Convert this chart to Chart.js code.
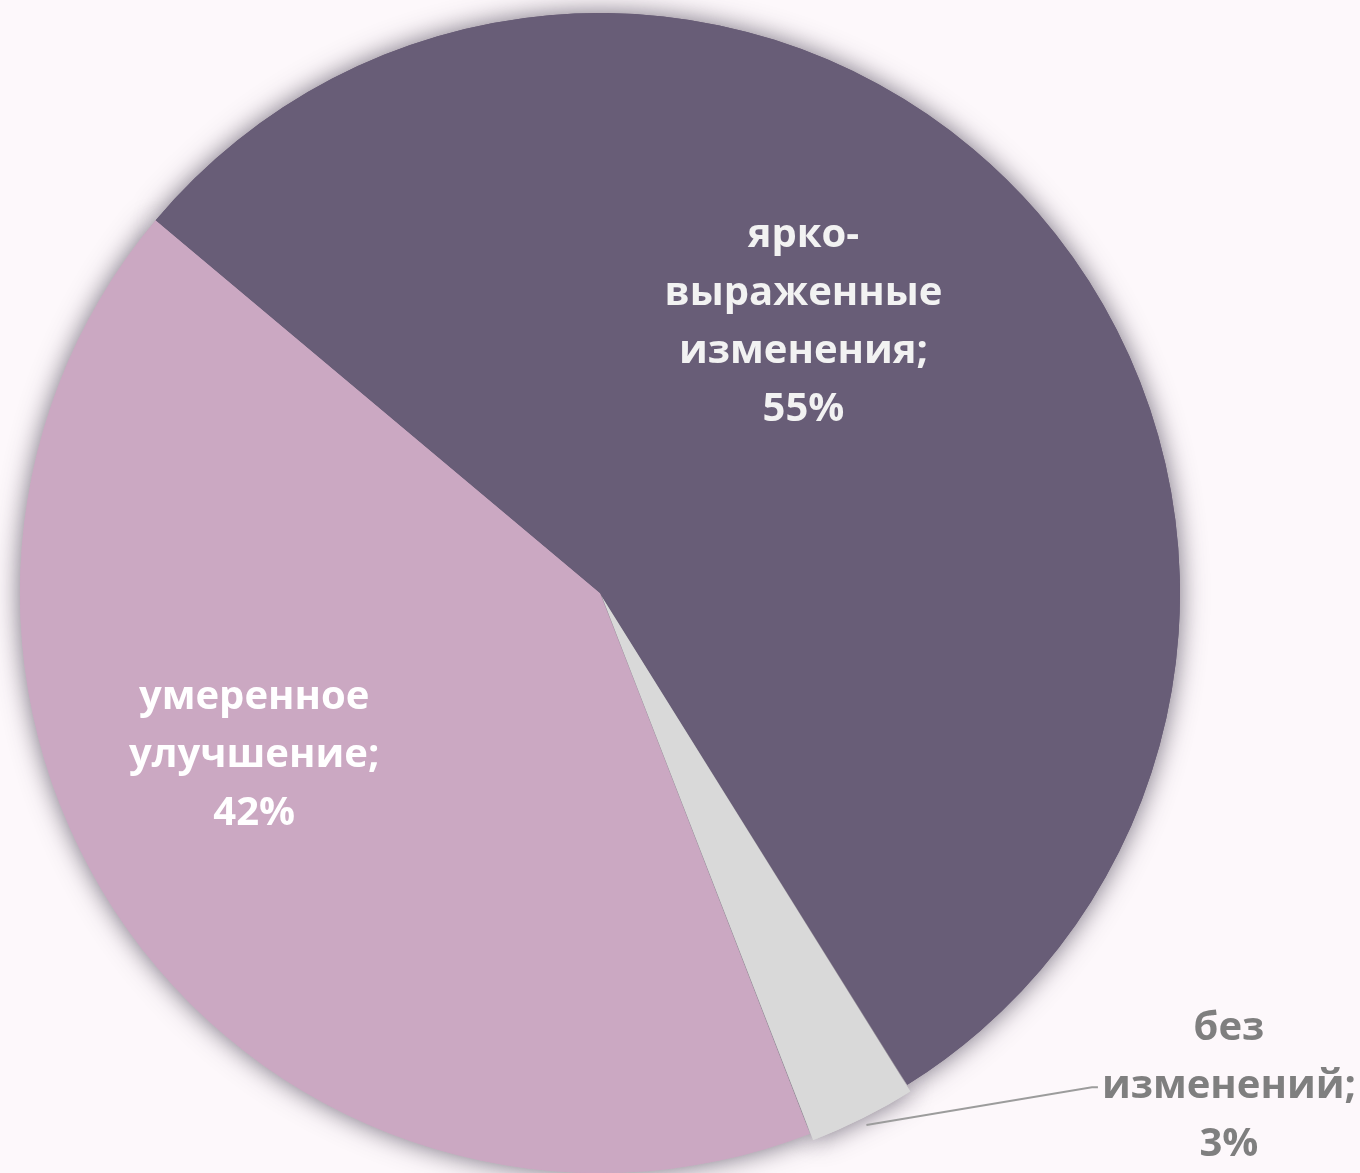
<!DOCTYPE html>
<html>
<head>
<meta charset="utf-8">
<script src="https://cdn.jsdelivr.net/npm/chart.js@4.4.1/dist/chart.umd.min.js"></script>
<style>
  html, body { margin: 0; padding: 0; background: #fdf8fb; }
  #wrap { width: 1360px; height: 1173px; position: relative; overflow: hidden; }
  canvas { display: block; }
</style>
</head>
<body>
<div id="wrap"><canvas id="pie" width="1360" height="1173"></canvas></div>
<script>
// Categories and shares (percent), in clockwise drawing order
const categories = ['без изменений', 'умеренное улучшение', 'ярко-выраженные изменения'];
const shares = [3, 42, 55];
// Label text broken into lines (the percent line is appended from shares)
const labelLines = [
  ['без', 'изменений;'],
  ['умеренное', 'улучшение;'],
  ['ярко-', 'выраженные', 'изменения;']
];
const sliceColors = ['#d9d9d9', '#cba8c2', '#685d77'];
const labelColors = ['#7f7f7f', '#ffffff', '#f2f2f2'];

// Label placement: angle shift from the slice's mid-angle (deg) and distance as a fraction of radius
const labelPlacement = [
  { dAngle: -25.3, frac: 1.378, outside: true },
  { dAngle: 10.4, frac: 0.659 },
  { dAngle: -12.0, frac: 0.583 }
];

const FONT_PX = 40;
const LINE_H = 58;

// Soft outer shadow drawn under the pie (inner edges are covered by the normal pass)
const shadowPlugin = {
  id: 'pieShadow',
  beforeDatasetsDraw(chart) {
    const ctx = chart.ctx;
    ctx.save();
    ctx.shadowColor = 'rgba(60, 50, 70, 0.7)';
    ctx.shadowBlur = 26;
    chart.getDatasetMeta(0).data.forEach(a => a.draw(ctx));
    ctx.restore();
  }
};

// Multi-line category;percent labels, with a leader line for the outside one
const labelPlugin = {
  id: 'sliceLabels',
  afterDatasetsDraw(chart) {
    const ctx = chart.ctx;
    const meta = chart.getDatasetMeta(0);
    ctx.save();
    ctx.font = 'bold ' + FONT_PX + 'px "Open Sans", "DejaVu Sans", sans-serif';
    ctx.textAlign = 'center';
    ctx.textBaseline = 'middle';
    meta.data.forEach((arc, i) => {
      const p = arc.getProps(['x', 'y', 'startAngle', 'endAngle', 'outerRadius'], true);
      const mid = (p.startAngle + p.endAngle) / 2;
      const pl = labelPlacement[i];
      const ang = mid + pl.dAngle * Math.PI / 180;
      const cx = p.x + Math.cos(ang) * p.outerRadius * pl.frac;
      const cy = p.y + Math.sin(ang) * p.outerRadius * pl.frac;
      const lines = labelLines[i].concat([shares[i] + '%']);
      const top = cy - (lines.length - 1) * LINE_H / 2;

      if (pl.outside) {
        const sx = p.x + Math.cos(mid) * (p.outerRadius + 15);
        const sy = p.y + Math.sin(mid) * (p.outerRadius + 15);
        const widest = Math.max(...lines.map(t => ctx.measureText(t).width));
        const ey = top + LINE_H * (lines.length - 2);
        const ex = cx - widest / 2 - 4;
        ctx.strokeStyle = '#9c9c9c';
        ctx.lineWidth = 2;
        ctx.beginPath();
        ctx.moveTo(sx, sy);
        ctx.lineTo(ex - 6, ey + 1);
        ctx.lineTo(ex, ey + 1);
        ctx.stroke();
      }

      ctx.fillStyle = labelColors[i];
      lines.forEach((t, k) => ctx.fillText(t, cx, top + k * LINE_H));
    });
    ctx.restore();
  }
};

new Chart(document.getElementById('pie'), {
  type: 'pie',
  data: {
    labels: categories,
    datasets: [{
      data: shares,
      backgroundColor: sliceColors,
      borderWidth: 0,
      offset: [16, 0, 0],
      hoverOffset: 0,
      radius: 580
    }]
  },
  options: {
    responsive: false,
    maintainAspectRatio: false,
    devicePixelRatio: 1,
    animation: false,
    events: [],
    rotation: 148,
    layout: { padding: { top: 13, bottom: 0, left: 0, right: 160 } },
    plugins: {
      legend: { display: false },
      tooltip: { enabled: false }
    }
  },
  plugins: [shadowPlugin, labelPlugin]
});
</script>
</body>
</html>
